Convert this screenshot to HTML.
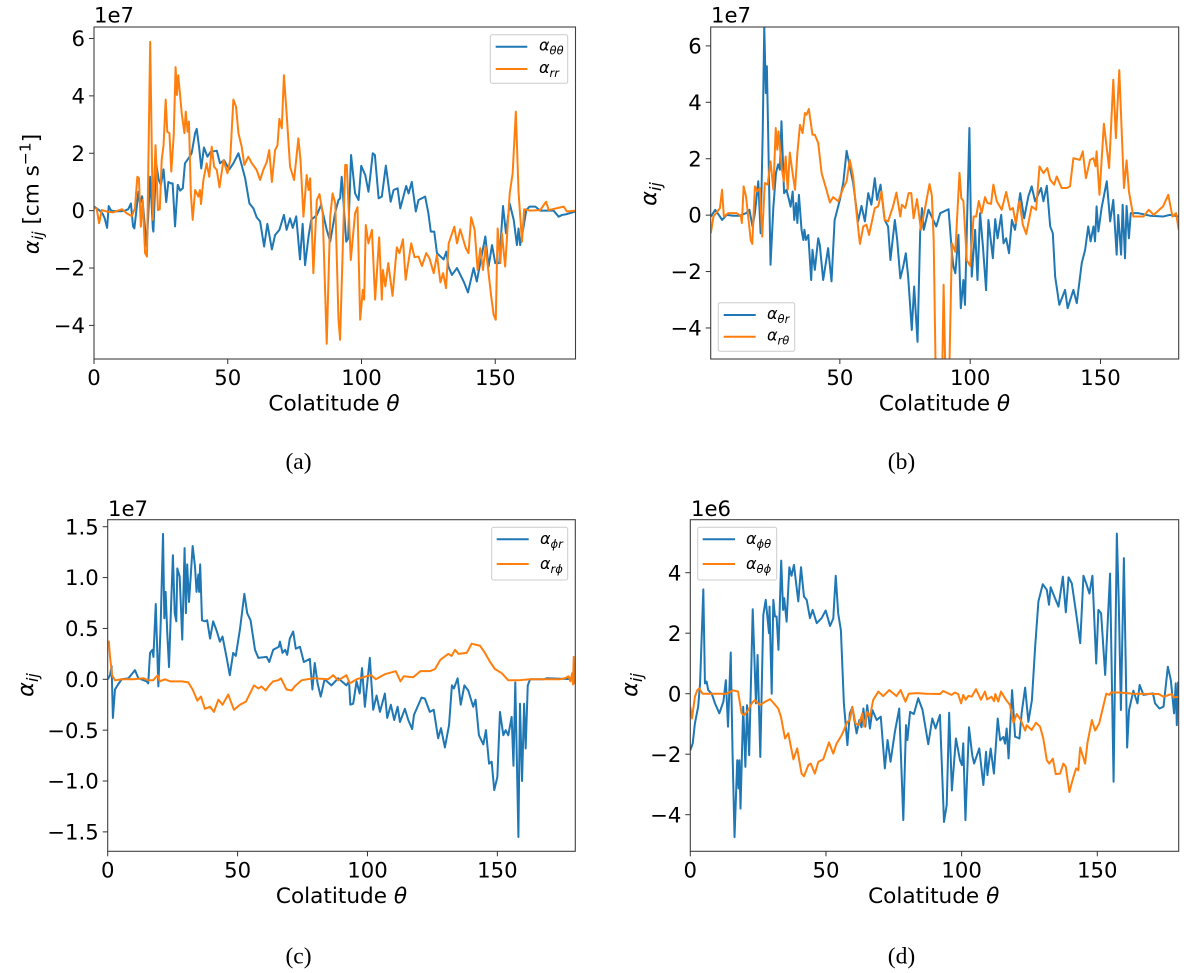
<!DOCTYPE html>
<html lang="en">
<head>
<meta charset="utf-8">
<title>Alpha tensor components versus colatitude</title>
<style>
html,body{margin:0;padding:0;background:#fff;}
svg{display:block;}
text{font-family:"DejaVu Sans","Liberation Sans",sans-serif;fill:#000;}
.tick{font-size:21.2px;}
.xlab{font-size:21.6px;}
.cap{font-family:"Liberation Serif",serif;font-size:23.5px;}
.leg{font-size:16px;font-style:italic;}
.ylab{font-size:22.5px;}
.ylab-a{font-size:21.6px;}
.legbox{fill:#fff;fill-opacity:.8;stroke:#ccc;stroke-width:1;}
.frame{fill:none;stroke:#404040;stroke-width:1.1;}
</style>
</head>
<body>
<svg id="figure" width="1200" height="973" viewBox="0 0 1200 973" xmlns="http://www.w3.org/2000/svg">
  <defs>
    <clipPath id="clip-a"><rect x="94" y="27" width="481.5" height="332"/></clipPath>
    <clipPath id="clip-b"><rect x="710.7" y="27" width="468" height="332"/></clipPath>
    <clipPath id="clip-c"><rect x="107.7" y="519.7" width="467.6" height="331.6"/></clipPath>
    <clipPath id="clip-d"><rect x="690.3" y="519.7" width="488.4" height="331.6"/></clipPath>
  </defs>

  <g id="panel-a">
    <g id="a-marks" clip-path="url(#clip-a)"></g>
    <rect class="frame" x="94" y="27" width="481.5" height="332"/>
    <g id="a-ticks"></g>
    <text class="tick" x="94" y="22.7">1e7</text>
    <text class="xlab" x="334" y="410.7" text-anchor="middle">Colatitude <tspan font-style="italic">θ</tspan></text>
    <text class="ylab-a" transform="translate(38.5,194) rotate(-90)" text-anchor="middle"><tspan font-style="italic">α</tspan><tspan font-style="italic" font-size="15.5" dy="4.5">ij</tspan><tspan dy="-4.5"> [cm s</tspan><tspan font-size="15.5" dy="-8">−1</tspan><tspan dy="8">]</tspan></text>
    <g>
      <rect class="legbox" x="490.3" y="34.7" width="77.4" height="48.6" rx="2"/>
      <line x1="495.7" x2="527.3" y1="46.7" y2="46.7" stroke="#1f77b4" stroke-width="2"/>
      <text class="leg" x="539" y="50.7">α<tspan font-size="11.5" dy="4">θθ</tspan></text>
      <line x1="495.7" x2="527.3" y1="69" y2="69" stroke="#ff7f0e" stroke-width="2"/>
      <text class="leg" x="539" y="73">α<tspan font-size="11.5" dy="4">rr</tspan></text>
    </g>
    <text class="cap" x="298.5" y="469" text-anchor="middle">(a)</text>
  </g>

  <g id="panel-b">
    <g id="b-marks" clip-path="url(#clip-b)"></g>
    <rect class="frame" x="710.7" y="27" width="468" height="332"/>
    <g id="b-ticks"></g>
    <text class="tick" x="711" y="22.7">1e7</text>
    <text class="xlab" x="944.5" y="410.7" text-anchor="middle">Colatitude <tspan font-style="italic">θ</tspan></text>
    <text class="ylab" transform="translate(656,194) rotate(-90)" text-anchor="middle"><tspan font-style="italic">α</tspan><tspan font-style="italic" font-size="16" dy="5">ij</tspan></text>
    <g>
      <rect class="legbox" x="718.3" y="302.7" width="76.4" height="48.6" rx="2"/>
      <line x1="723.7" x2="755.7" y1="315" y2="315" stroke="#1f77b4" stroke-width="2"/>
      <text class="leg" x="767" y="319">α<tspan font-size="11.5" dy="4">θr</tspan></text>
      <line x1="723.7" x2="755.7" y1="336.7" y2="336.7" stroke="#ff7f0e" stroke-width="2"/>
      <text class="leg" x="767" y="340.7">α<tspan font-size="11.5" dy="4">rθ</tspan></text>
    </g>
    <text class="cap" x="901.5" y="469" text-anchor="middle">(b)</text>
  </g>

  <g id="panel-c">
    <g id="c-marks" clip-path="url(#clip-c)"></g>
    <rect class="frame" x="107.7" y="519.7" width="467.6" height="331.6"/>
    <g id="c-ticks"></g>
    <text class="tick" x="108" y="516">1e7</text>
    <text class="xlab" x="341.5" y="903" text-anchor="middle">Colatitude <tspan font-style="italic">θ</tspan></text>
    <text class="ylab" transform="translate(33,685) rotate(-90)" text-anchor="middle"><tspan font-style="italic">α</tspan><tspan font-style="italic" font-size="16" dy="5">ij</tspan></text>
    <g>
      <rect class="legbox" x="491.7" y="527.3" width="76" height="52.7" rx="2"/>
      <line x1="496.7" x2="528.7" y1="539.3" y2="539.3" stroke="#1f77b4" stroke-width="2"/>
      <text class="leg" x="540" y="544">α<tspan font-size="11.5" dy="4">ϕr</tspan></text>
      <line x1="496.7" x2="528.7" y1="564" y2="564" stroke="#ff7f0e" stroke-width="2"/>
      <text class="leg" x="540" y="569">α<tspan font-size="11.5" dy="4">rϕ</tspan></text>
    </g>
    <text class="cap" x="298.5" y="963.3" text-anchor="middle">(c)</text>
  </g>

  <g id="panel-d">
    <g id="d-marks" clip-path="url(#clip-d)"></g>
    <rect class="frame" x="690.3" y="519.7" width="488.4" height="331.6"/>
    <g id="d-ticks"></g>
    <text class="tick" x="691" y="516">1e6</text>
    <text class="xlab" x="933.7" y="903" text-anchor="middle">Colatitude <tspan font-style="italic">θ</tspan></text>
    <text class="ylab" transform="translate(637,685) rotate(-90)" text-anchor="middle"><tspan font-style="italic">α</tspan><tspan font-style="italic" font-size="16" dy="5">ij</tspan></text>
    <g>
      <rect class="legbox" x="697.7" y="527.3" width="79" height="52.7" rx="2"/>
      <line x1="702.7" x2="735" y1="539.3" y2="539.3" stroke="#1f77b4" stroke-width="2"/>
      <text class="leg" x="746" y="544">α<tspan font-size="11.5" dy="4">ϕθ</tspan></text>
      <line x1="702.7" x2="735" y1="564" y2="564" stroke="#ff7f0e" stroke-width="2"/>
      <text class="leg" x="746" y="569">α<tspan font-size="11.5" dy="4">θϕ</tspan></text>
    </g>
    <text class="cap" x="901.5" y="963.3" text-anchor="middle">(d)</text>
  </g>
</svg>

<script>
/* tick labels */
const xTicksABCD = [0, 50, 100, 150];
const xTicksB = [50, 100, 150];
const yTicksA = [-4, -2, 0, 2, 4, 6];
const yTicksB = [-4, -2, 0, 2, 4, 6];
const yTicksC = [-1.5, -1.0, -0.5, 0.0, 0.5, 1.0, 1.5];
const yTicksD = [-4, -2, 0, 2, 4];

/* panel (a) */
const aBlueTheta = [0,1,2.2,3.2,4,4.9,5.5,6.4,8,10,11.6,12.8,13.8,14.6,15.1,16,16.6,17.2,18,18.7,19.7,21,22,22.2,23.2,24.2,25,26,27,27.8,28.7,29.4,30.3,31.3,32.2,33.2,34,35.3,36.5,37.8,38.4,39.3,40.1,41.1,42.4,43.6,45.9,47.1,48.6,50.6,52.1,54,55.2,56.5,58.1,59.6,60.8,62.1,63.6,64.8,66.5,67.7,69.3,71,72,73.3,74.3,75.6,77,78,78.9,80.2,81.2,83.3,84.9,87,88.3,90.1,91.4,92,92.6,94.3,95,96.1,97.6,98.9,99.9,101.4,102.6,103.2,104.2,105,106.4,107.6,109.1,110.9,112,113.5,114.5,116.7,117.6,118.8,120.3,121.3,123.8,125,125.9,127.2,128.2,130.7,131.7,132.5,133.8,135.7,138.2,139.8,141.9,143.1,146.3,147.5,148.8,150,151.5,152.9,154,155.4,156.9,158.1,158.7,159.3,160.6,161.6,162.8,165,166.8,171.8,173.7,175,176.8,180];
const aBlueValues = [0.14,0.08,0,-0.1,-0.27,-0.6,0.16,0,-0.02,-0.02,0,0.05,0.25,-0.55,-0.62,0.14,0.66,0.25,0.5,-0.2,-1.25,1.18,-0.62,-0.73,1.65,1.07,0.9,1.44,0.3,1.0,0.95,0.95,-0.55,0.9,0.7,0.78,1.65,1.82,2.0,2.7,2.85,2.2,1.47,2.2,1.88,2.05,2.09,1.65,1.76,1.44,1.65,2.0,1.59,1.13,0.25,0.08,-0.23,-0.38,-1.25,-0.46,-1.35,-0.85,-0.67,-0.15,-0.67,-0.27,-0.6,-0.2,-1.7,-0.46,-1.9,-0.9,-0.32,-0.15,0.2,-0.67,-1.08,-0.1,0.37,0.43,1.18,-1.08,-0.97,1.94,0.6,0.37,1.56,1.24,0.66,1.13,2.0,1.94,0.43,0.49,1.57,0.31,0.72,0.78,0.08,0.86,0.6,1.0,-0.03,0.37,0.49,-0.09,-0.73,-0.73,-1.48,-1.7,-1.43,-1.95,-2.24,-2.0,-2.47,-2.85,-2.0,-2.47,-0.9,-1.95,-1.2,-1.83,-1.83,0.16,-0.79,0.25,-0.32,-1.2,-0.62,-1.2,-0.56,0.02,0.14,0.14,0,0,-0.21,-0.15,-0.12,-0.03];
const aOrangeTheta = [0,1,1.9,2.9,4.8,7.2,10.5,12.2,14.1,15.3,16.2,16.8,17.5,18.2,19.1,19.8,21,22,23,23.9,24.6,25.3,26,26.8,27.4,28.2,28.9,29.8,30.5,31,31.5,32.8,33.8,34.3,35,35.5,36.2,36.9,37.8,39,39.6,40,40.9,42.1,43.1,44,44.9,45.9,46.9,48.4,49.9,50.9,52.1,53.1,54,55.2,56.2,57.7,59,60.8,62.1,63.3,64.6,65.5,66.5,67.7,68.6,69.3,70.2,71,72,73.3,74.8,76.4,77.2,78.3,79.5,80.2,80.8,82,83.3,84.3,85.5,87,88.3,89.2,90.2,91.4,92,93.9,94.5,96,97.6,98.5,99.5,100.5,101,101.6,102.6,103.9,105.1,106.6,107.6,108,108.9,110,111.6,113.2,114.2,115.5,116.5,118.6,119.8,121.3,122.6,124.2,125.4,127,128.2,129.5,130.5,131.6,132.6,134.7,135.7,136.9,139,140,141,142.3,143.4,144.4,145.4,146.4,147.5,148.5,149.4,150.2,150.9,151.9,152.5,153.7,155.4,156.5,157.7,158.7,160,160.8,163,166.8,169,170,175.6,176.8,180];
const aOrangeValues = [0.08,0.08,-0.44,0.02,-0.03,-0.06,0.05,-0.09,-0.19,0.08,1.18,1.13,-0.56,0.37,-1.48,-1.6,5.88,-0.32,2.28,0.02,0.05,1.76,2.28,3.87,2.75,2.7,1.36,2.63,5.0,4.03,4.72,3.39,2.7,3.45,2.75,3.1,0.6,-0.32,0.72,0.49,0.72,0.23,1.07,1.65,1.18,2.23,1.53,1.42,0.81,1.76,1.3,1.76,3.87,3.62,2.7,2.23,1.59,1.88,1.65,1.42,1.07,1.42,1.7,2.11,1.0,2.11,2.28,3.2,2.87,4.72,3.39,1.53,1.07,2.52,1.76,-0.21,1.24,0.72,1.13,-2.18,0.37,0.58,-0.1,-4.64,-0.21,0.6,0.25,-3.8,-4.5,1.59,1.59,-1.72,-0.09,0.12,-3.8,-2.76,-3.1,-0.5,-1.14,-0.67,-3.1,-0.93,-3.1,-2.07,-2.64,-1.83,-2.97,-1.28,-1.48,-1.0,-2.41,-1.14,-1.62,-1.6,-1.93,-1.48,-1.66,-2.18,-1.54,-2.5,-2.18,-2.7,-1.14,-0.56,-1.14,-0.65,-1.31,-1.48,-0.23,-0.67,-2.07,-1.31,-2.07,-1.25,-2.18,-3.0,-3.63,-3.8,-0.62,-1.83,-0.79,-1.95,0.6,1.3,3.45,0.66,-1.08,0.05,0,0.02,0.31,0.02,0.14,-0.03,0];

/* panel (b) */
const bBlueTheta = [0.5,2.2,4,4.8,6.6,9,11.5,14,15.3,16.5,17.4,18.7,19.6,20.4,21,21.6,22,22.5,23.4,24.5,25.5,26.3,27,27.6,28.6,29.5,30.5,31.1,31.9,32.5,33.2,33.7,34.3,35.3,36,36.4,37,37.9,39,39.5,40.4,41.7,42.3,43.6,45.5,46.8,48,50,51.3,52.6,53.8,55.1,57,58.3,59.6,60.9,62.1,63.4,64.3,65.6,67.2,68.5,69.4,71.1,72,73.2,74.3,75.3,76.2,77.6,78.5,79.8,80.8,81.5,82.2,84,87,88.5,91.7,93,93.6,94.3,95.5,96.4,97.4,98,99.7,100.6,101.9,102.8,103.8,104.9,106.1,107,108.7,109.6,110.5,111.9,112.8,113.8,114.9,116,117.2,119.2,120.7,122.3,123.6,124.9,127.2,128.1,129.4,130.7,131.7,132.6,134.2,136.4,137.4,139.6,140.9,142.8,144.1,145.3,146.2,147.3,147.9,148.5,149.2,150.4,152.4,153.7,154.9,156.2,156.8,157.9,158.5,159.4,160,160.9,161.6,164.5,169,174,176.6,180];
const bBlueValues = [-0.05,0.19,-0.05,-0.17,0.01,-0.02,-0.02,0.07,0.19,-0.4,0.07,1.2,-0.64,2.9,6.7,4.33,5.28,2.9,-1.76,0.3,1.5,1.8,1.61,3.33,0.78,0.9,0.54,0.3,0.84,-0.17,0.43,-0.28,0.72,-0.52,-0.88,-0.52,-0.88,-0.7,-2.3,-1.23,-1.94,-0.82,-1.05,-2.3,-1.17,-2.35,-0.17,0.54,1.14,2.28,1.73,1.14,-0.22,0.33,-0.22,0.78,0.37,1.31,0.54,1.08,-0.17,-0.4,-1.59,-0.17,-0.88,-2.24,-1.83,-1.35,-2.18,-4.07,-2.53,-4.49,-0.64,0.25,-0.52,0.19,-0.4,0.07,0.21,-1.35,-1.83,-2.06,-0.7,-3.3,-2.3,-3.18,3.09,-2.18,-0.52,-2.3,0.07,-1.12,-2.66,-0.17,-1.53,-0.14,-0.82,0.01,-1.0,-0.82,-1.35,-0.17,-0.52,0.78,-0.11,0.66,1.02,0.49,0.96,0.49,1.04,-0.4,-0.64,-2.18,-3.18,-2.65,-3.3,-2.65,-3.12,-1.7,-1.23,-0.4,-0.93,-0.4,-0.93,0.31,-0.58,0.25,1.2,-0.22,0.54,-1.4,0.01,-1.4,0.37,-1.53,0.33,-0.82,0.07,0.07,-0.02,-0.05,0.01,-0.05];
const bOrangeTheta = [0.5,1.5,4,4.8,5.5,7.2,10.4,12,12.4,13.1,14,15.8,16.4,17.4,18.3,19.3,20.2,21.2,22.3,23.4,24.5,25.4,26,26.5,27.7,28.5,29.2,30,30.8,31.7,32.8,33.7,34.7,35.7,36.6,37.2,38.1,39.5,40.4,41.7,43,44.3,46.2,47.4,49.4,51.3,52.6,53.8,55.1,56.4,57.7,59,60.2,61.2,63.4,64.7,66,67.2,68.5,70.4,71.7,73.2,73.8,75.1,76.4,77.4,78.3,79.6,81.1,82.8,84.4,85.3,86,86.7,89.3,89.8,90.4,92,93,94.3,95.9,96.6,97.4,98.7,100,101.3,102.3,103.3,104.4,105.7,106.6,108,108.9,110.2,112.1,113.8,115.3,116.4,117.5,118.9,120.2,121.5,123.6,125.3,126.6,128.1,129.6,130.7,132.2,133.2,135.1,137,138.3,139.6,142.1,143.2,144.4,146,147.3,148.1,148.5,149.6,151.3,153.3,154.9,155.9,157.2,159,160,160.9,162.6,166.5,168.5,170.4,174,176,177.6,179,180];
const bOrangeValues = [-0.64,-0.05,0.25,0.9,-0.05,0.07,0.07,-0.02,-0.28,1.02,0.66,-0.88,-1.02,1.02,0.84,0.96,-0.76,1.14,1.08,1.9,0.9,3.09,2.32,2.97,1.67,1.2,2.08,0.9,2.22,1.61,0.9,2.2,3.2,2.91,3.62,3.56,3.76,2.85,2.85,2.56,1.49,1.08,0.45,0.64,0.49,0.96,1.2,1.96,1.37,0.07,-1.02,-0.4,-0.34,-0.7,0.25,0.31,0.84,-0.17,-0.22,0.31,0.8,-0.05,0.37,0.25,0.78,0.78,-0.11,0.57,-0.52,0.31,1.1,0.7,-0.9,-5.2,-5.5,-2.47,-5.2,-5.5,-1,-1.3,1.5,0.6,0.5,-1.6,-1.8,-0.05,-0.05,0.5,0.07,0.64,0.43,0.4,1.08,0.49,0.19,0.82,0.19,0.25,-0.28,0.49,-0.34,-0.67,0.31,0.19,1.73,1.49,1.67,1.25,1.08,1.37,0.96,0.96,1.02,2.02,1.96,2.26,1.31,1.96,2.02,1.73,2.26,0.72,3.24,1.67,4.8,2.73,5.14,0.96,1.94,0.84,-0.05,-0.05,0.19,0.01,0.31,0.72,-0.05,0.07,-0.52];

/* panel (c) */
const cBlueTheta = [0,0.9,1.5,2,2.8,4,5.4,8,10.5,11.8,15,15.6,16.3,17.2,17.6,18.5,19.5,20.4,21.3,21.8,22.3,22.9,23.6,24.2,25.1,25.8,26.4,26.8,27.7,28.7,29.6,30.1,30.6,31.3,31.9,32.7,33.6,34.2,34.9,35.2,35.6,36.3,37.4,38.3,39.4,40.6,41.9,43.2,44.2,45.8,47,48.3,49.3,50.9,52.6,53.7,55,56.7,58,61.2,62.2,63.7,65.9,66.3,67.3,68.3,69.1,70.1,71.4,72.4,74,75.5,77.8,78.8,79.7,80.8,82,83.5,86.1,88.7,91.9,92.9,93.4,94.5,95.8,97,97.9,99,100.9,102.2,103.5,104.8,106.7,107.6,109,110.3,111.6,112.5,114.4,115.7,117.2,117.9,120.8,122.1,124,125.5,127.2,128.3,129.8,131.4,132.5,133.3,134.7,135.9,137.3,138.8,140.7,141.6,142.9,144.6,145.6,146.8,147.8,148.8,150,151,152.3,153.2,154.2,155.5,156.2,156.9,158.1,158.7,159.5,160.3,160.9,161.7,162.6,167.7,169,180];
const cBlueValues = [0,0.04,0.13,-0.38,-0.1,-0.05,0,0.01,0.09,0.01,-0.02,-0.04,0.26,0.29,0.22,0.74,-0.07,0.55,1.43,0.6,0.86,0.47,0.12,0.58,1.22,0.65,0.57,1.09,1.01,0.39,1.29,0.65,1.13,0.76,0.99,1.31,1.11,0.86,1.03,0.86,1.13,0.58,0.57,0.58,0.4,0.57,0.48,0.37,0.42,0.21,0.04,0.26,0.23,0.49,0.84,0.65,0.58,0.29,0.21,0.22,0.17,0.29,0.32,0.37,0.26,0.29,0.24,0.4,0.47,0.3,0.32,0.17,0.2,-0.1,0.16,-0.04,-0.17,0,-0.06,0.01,-0.06,-0.02,-0.25,-0.24,-0.02,-0.14,0.11,-0.27,0.21,-0.3,-0.16,-0.32,-0.14,-0.38,-0.25,-0.4,-0.27,-0.42,-0.29,-0.4,-0.49,-0.35,-0.18,-0.19,-0.32,-0.3,-0.58,-0.48,-0.67,-0.45,-0.06,-0.09,0.01,-0.25,-0.06,-0.11,-0.27,-0.2,-0.55,-0.64,-0.5,-0.83,-0.81,-1.09,-0.96,-0.32,-0.55,-0.5,-0.55,-0.37,-0.85,-0.03,-1.55,-0.24,-1.0,-0.24,-0.68,-0.06,0,0,0.01,0];
const cOrangeTheta = [0.4,0.9,1.7,2.8,5.4,10,13.8,15.6,17.5,19.2,20.1,22,24,28.5,31,32.7,34.5,35.9,37.4,39.4,40.9,42.6,44.2,46.4,48.6,50.9,53.2,56.3,58,59.2,60.8,62.2,63.7,65.6,66.7,68.8,70.8,72,74.6,79.1,84.8,86.8,88.7,91.9,93.2,95.8,99.6,101.5,103.2,106.7,110.9,112.7,114,117.6,120.4,124,126,128,131.1,132.4,133.7,135,138.2,140.1,143.3,145.2,147.2,149.1,151.7,154.2,158,162.6,174,176,177.4,178.1,178.8,179.1,179.4,179.7,180];
const cOrangeValues = [0.38,0.22,0.04,-0.01,0,0,0.01,-0.01,-0.01,0.04,-0.02,0,-0.02,-0.02,-0.03,-0.1,-0.21,-0.17,-0.29,-0.27,-0.32,-0.2,-0.25,-0.15,-0.3,-0.25,-0.22,-0.06,-0.09,-0.07,-0.11,-0.06,-0.02,-0.01,0.01,-0.1,-0.11,-0.07,-0.01,0.01,0,0.04,-0.01,0.04,-0.04,0,0.03,0.04,0,0.05,0.08,-0.02,0.03,0.02,0.08,0.08,0.1,0.19,0.25,0.23,0.29,0.25,0.26,0.35,0.33,0.26,0.17,0.1,0.06,-0.01,-0.01,0,0,0.01,0.03,-0.02,0.06,-0.05,0.22,-0.04,0.16];

/* panel (d) */
const dBlueTheta = [0,0.9,1.7,2.9,3.6,4.8,5.4,6,6.6,7.9,9.1,10.7,12.2,13.1,13.9,14.9,15.6,16.3,17.3,17.8,18.1,18.5,19.5,20.3,20.9,21.7,23,24.2,24.8,25.8,26.9,27.8,29,29.2,30,30.6,31.2,31.8,32.5,33.5,34.2,34.6,35.5,36.5,37.3,38.2,39.8,40.8,41.9,42.9,44.1,45.1,46.6,48.4,49.9,51.5,52.7,53.6,54.5,55.5,56.6,57.9,58.8,59.7,61.3,62.3,63.1,63.8,64.5,65.2,66.2,67.1,68.7,70.2,71.7,72.7,73.8,75.4,77,78.5,79.5,80,81,82.4,84,85.6,87.7,89.2,90.4,92,93.5,94.5,95.4,96.4,97.9,99.4,100.1,100.6,101.4,102.7,103.9,104.6,106.5,108,109,109.5,110.7,111.9,113.3,114.2,115.4,116,116.6,117.3,118.6,119.7,121.3,122.1,123.4,124.6,125.9,127.1,128.3,129.9,131.4,132.2,132.8,134.4,135.7,137.3,138.4,139.4,140.6,142.2,143.7,144.9,145.9,147.1,148.2,149.6,150.4,151.4,152.9,154.7,156,157.2,157.9,158.7,159.8,161,161.7,163.3,164.8,165.6,167,170.5,171.3,172.9,174.4,176,177.1,178.3,178.9,179.3,179.8];
const dBlueValues = [-1.87,-1.64,-0.98,-0.43,0.34,3.45,0.34,0.4,0.12,0,-0.32,-0.65,-0.26,0.45,-1.09,1.36,-2.09,-4.74,-2.2,-3.13,-2.2,-3.8,-0.43,-2.42,-0.38,-2.03,2.79,-0.32,1.28,-2.09,2.6,3.1,2.0,2.88,0,3.1,2.55,2.55,1.45,4.4,2.77,3.16,2.38,4.18,3.9,4.26,3.05,4.18,3.21,3.1,2.5,2.77,2.33,2.5,2.75,2.24,2.49,3.9,2.66,2.1,-0.32,-1.7,-0.65,-0.45,-1.31,-0.87,-1.11,-0.49,-1.09,-0.38,-1.15,-0.54,-0.87,-0.76,-2.47,-1.53,-2.25,-1.26,-0.49,-4.18,-1.04,-1.53,-0.6,-0.67,-0.15,-0.54,-1.67,-0.82,-1.15,-0.7,-4.24,-3.68,-0.63,-3.2,-1.48,-2.2,-2.36,-1.64,-4.18,-1.11,-2.03,-2.31,-1.81,-3.02,-1.92,-2.69,-1.81,-2.64,-0.82,-1.54,-1.43,-1.65,-1.15,-2.14,0.12,-1.42,-1.48,-0.65,0.2,-0.93,-0.21,1.56,3.05,3.62,3.43,2.94,3.52,3.16,2.88,3.87,2.69,3.85,3.65,2.66,1.67,3.9,3.65,3.31,3.9,1.0,2.77,2.66,0.62,3.97,-2.91,5.29,3.05,-0.54,4.48,-1.78,-0.54,0.1,-0.32,0.29,-0.04,0.01,-0.32,-0.49,-0.43,0.89,0.45,-0.65,0.34,-1.04,0.4];
const dOrangeTheta = [0,0.6,1.7,2.6,3.3,4.5,8.5,13.4,15.8,17.6,18.9,19.8,21.4,22.6,23.8,25.7,27.5,29.4,30.8,32.4,33.4,34.9,36.1,38,39.4,41,41.9,43.5,44.4,45.9,47.2,49,51.1,52.7,53.9,55.8,57.9,58.8,59.7,60.9,62.1,63.4,64.1,65.2,66.2,67.4,69.3,71.1,73.3,76,77.5,79.3,80.5,83.5,87,92,93.2,96.3,97.5,98.7,99.8,100.6,101.5,102.5,103.7,105.3,107.1,108.6,109.4,111,112,112.4,113.5,114.5,116.4,117.8,119.1,120.3,121.8,123.4,124,125.8,127.4,128.9,130.1,131.4,132.3,133.6,134.7,136.3,137.5,138.4,139.7,141.2,142.2,143,143.7,145.5,146.4,148,149.2,150.7,152,153.3,154.5,155,158.4,163.3,172.6,174.4,177.5,178.1,180];
const dOrangeValues = [-0.43,-0.82,-0.1,0.12,0.18,0,0,0,0.11,0.07,-0.65,-0.71,-0.54,-0.32,-0.21,-0.38,-0.27,-0.18,-0.32,-0.49,-0.76,-1.48,-1.31,-2.17,-1.81,-2.64,-2.73,-2.36,-2.31,-2.64,-2.25,-2.17,-1.61,-1.98,-1.65,-1.37,-0.93,-0.87,-0.43,-0.98,-1.04,-0.65,-1.09,-0.6,-0.76,-0.21,0.07,-0.08,0.12,-0.08,0.12,-0.26,0,0.02,0,-0.01,0.09,-0.04,0.04,-0.01,-0.32,-0.04,-0.2,-0.07,-0.1,0.15,-0.2,0.07,-0.19,-0.1,-0.25,-0.01,-0.26,0.07,-0.21,-0.37,-0.96,-0.67,-0.87,-1.22,-1.04,-1.2,-0.96,-1.09,-1.48,-2.2,-2.31,-2.15,-2.66,-2.64,-2.31,-2.42,-3.25,-2.75,-2.47,-2.53,-1.78,-2.31,-1.61,-0.87,-1.22,-0.98,-0.49,0,-0.04,0.04,0.04,0,-0.01,-0.1,-0.01,-0.12,-0.1];

const BLUE = '#1f77b4';
const ORANGE = '#ff7f0e';
const SVGNS = 'http://www.w3.org/2000/svg';

function makeXScale(panel) {
  return function (v) {
    return panel.left + (v - panel.xMin) / (panel.xMax - panel.xMin) * (panel.right - panel.left);
  };
}
function makeYScale(panel) {
  return function (v) {
    return panel.bottom - (v - panel.yMin) / (panel.yMax - panel.yMin) * (panel.bottom - panel.top);
  };
}
function fmtTick(v, decimals) {
  const s = Math.abs(v).toFixed(decimals);
  return (v < 0 ? '\u2212' : '') + s;
}
function drawLine(group, xs, ys, color, xScale, yScale, name) {
  const n = Math.min(xs.length, ys.length);
  let d = '';
  for (let i = 0; i < n; i++) {
    d += (i ? 'L' : 'M') + xScale(xs[i]).toFixed(2) + ' ' + yScale(ys[i]).toFixed(2);
  }
  const path = document.createElementNS(SVGNS, 'path');
  path.setAttribute('d', d);
  path.setAttribute('fill', 'none');
  path.setAttribute('stroke', color);
  path.setAttribute('stroke-width', '2');
  path.setAttribute('stroke-linejoin', 'round');
  
  
  group.appendChild(path);
}
function drawTicks(group, panel, xTicks, yTicks, decimals, xScale, yScale) {
  xTicks.forEach(function (v) {
    const x = xScale(v);
    const mark = document.createElementNS(SVGNS, 'line');
    mark.setAttribute('x1', x);
    mark.setAttribute('x2', x);
    mark.setAttribute('y1', panel.bottom);
    mark.setAttribute('y2', panel.bottom + 5);
    mark.setAttribute('stroke', '#333');
    mark.setAttribute('stroke-width', '1');
    
    
    group.appendChild(mark);
    const label = document.createElementNS(SVGNS, 'text');
    label.setAttribute('class', 'tick');
    label.setAttribute('x', x);
    label.setAttribute('y', panel.bottom + 26);
    label.setAttribute('text-anchor', 'middle');
    
    
    label.textContent = String(v);
    group.appendChild(label);
  });
  yTicks.forEach(function (v) {
    const y = yScale(v);
    const mark = document.createElementNS(SVGNS, 'line');
    mark.setAttribute('x1', panel.left - 5);
    mark.setAttribute('x2', panel.left);
    mark.setAttribute('y1', y);
    mark.setAttribute('y2', y);
    mark.setAttribute('stroke', '#333');
    mark.setAttribute('stroke-width', '1');
    
    
    group.appendChild(mark);
    const label = document.createElementNS(SVGNS, 'text');
    label.setAttribute('class', 'tick');
    label.setAttribute('x', panel.left - 9);
    label.setAttribute('y', y + 7.6);
    label.setAttribute('text-anchor', 'end');
    
    
    label.textContent = fmtTick(v, decimals);
    group.appendChild(label);
  });
}
function renderPanel(id, panel, xTicks, yTicks, decimals, bx, by, ox, oy, blueName, orangeName) {
  const xScale = makeXScale(panel);
  const yScale = makeYScale(panel);
  const marks = document.getElementById(id + '-marks');
  drawLine(marks, bx, by, BLUE, xScale, yScale, blueName);
  drawLine(marks, ox, oy, ORANGE, xScale, yScale, orangeName);
  drawTicks(document.getElementById(id + '-ticks'), panel, xTicks, yTicks, decimals, xScale, yScale);
}

renderPanel('a', {left:94, right:575.5, top:27, bottom:359, xMin:0, xMax:180, yMin:-5.17, yMax:6.4},
  xTicksABCD, yTicksA, 0, aBlueTheta, aBlueValues, aOrangeTheta, aOrangeValues, 'alpha-theta-theta-line', 'alpha-rr-line');
renderPanel('b', {left:710.7, right:1178.7, top:27, bottom:359, xMin:0.45, xMax:180, yMin:-5.1, yMax:6.67},
  xTicksB, yTicksB, 0, bBlueTheta, bBlueValues, bOrangeTheta, bOrangeValues, 'alpha-theta-r-line', 'alpha-r-theta-line');
renderPanel('c', {left:107.7, right:575.3, top:519.7, bottom:851.3, xMin:0, xMax:180, yMin:-1.691, yMax:1.569},
  xTicksABCD, yTicksC, 1, cBlueTheta, cBlueValues, cOrangeTheta, cOrangeValues, 'alpha-phi-r-line', 'alpha-r-phi-line');
renderPanel('d', {left:690.3, right:1178.7, top:519.7, bottom:851.3, xMin:0, xMax:180, yMin:-5.21, yMax:5.752},
  xTicksABCD, yTicksD, 0, dBlueTheta, dBlueValues, dOrangeTheta, dOrangeValues, 'alpha-phi-theta-line', 'alpha-theta-phi-line');
</script>
</body>
</html>
